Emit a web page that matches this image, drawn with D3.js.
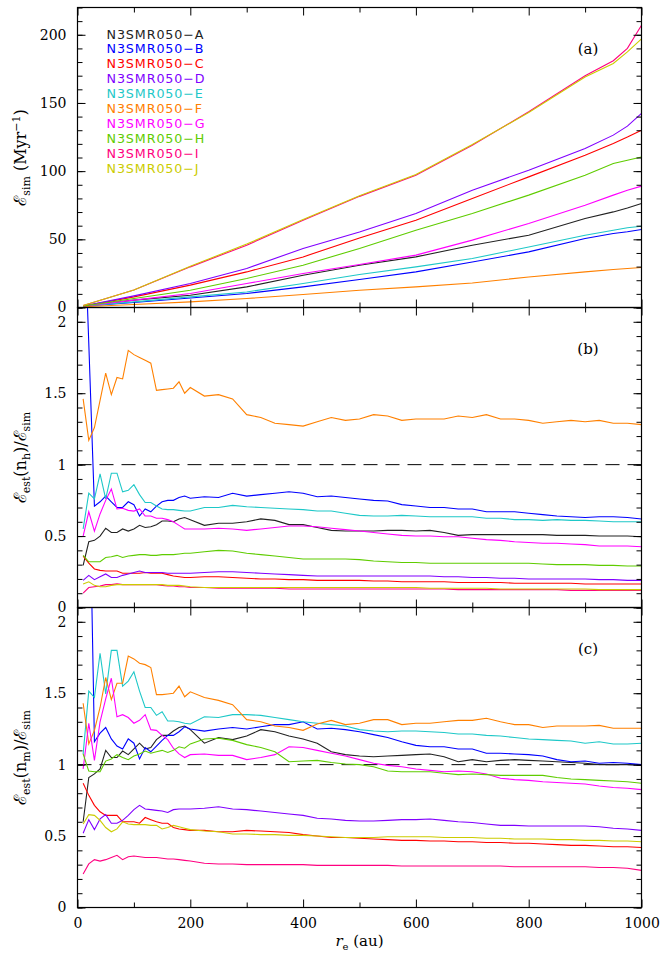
<!DOCTYPE html>
<html><head>
<meta charset="utf-8">
<title>Chart</title>
<script src="https://d3js.org/d3.v7.min.js"></script>
<style>body{margin:0;background:#fff}</style>
</head>
<body>
<div id="chart"></div>
<script>
// run names + colours
const names = ["N3SMR050\u2212A","N3SMR050\u2212B","N3SMR050\u2212C","N3SMR050\u2212D","N3SMR050\u2212E",
               "N3SMR050\u2212F","N3SMR050\u2212G","N3SMR050\u2212H","N3SMR050\u2212I","N3SMR050\u2212J"];
const colors = ["#222222","#0000ff","#ff0000","#8000ff","#1ec8c8","#ff8000","#ff00ff","#5fcc00","#ff0080","#cccc00"];

// panel (a): E_sim (Myr^-1)
const xSim = [10,100,200,300,400,500,600,700,800,900,950,975,1000];
const simA = [1,5.4,9,15.1,23.7,31,37.1,45.7,53,65.3,70.1,73,76.3];
const simB = [1,3.7,7,10.3,15.1,20.5,26.1,33.4,40.8,50.6,54.3,55.5,57.2];
const simC = [1,7.8,16.4,26.1,37.1,51,64,80,95.8,111.7,120.3,125,130];
const simD = [1,8.5,17.6,28.6,43.3,55.4,69,86,100.7,116.6,126.4,133,142.3];
const simE = [1,4.1,7.8,11.4,17.6,24.2,29.8,35.9,44.4,53,56.7,58.5,59.6];
const simF = [0.5,2.2,4.1,6.6,9.5,12.7,15.1,18,22.4,26.1,27.9,28.6,29.3];
const simG = [1,5.4,10.3,17.6,24.9,31.5,38.4,49.4,61.6,75,82.4,86,89];
const simH = [1,6.6,12.7,21.3,31,43.3,56.7,69,82.4,97,105.6,108,110.4];
const simI = [1.5,12.8,29.8,45.7,64,81.5,97,119,143.5,170,181,190,207];
const simJ = [1.5,12.8,30.3,46.5,64.5,82,97.5,119.5,143,169,179,187.5,197];

// panels (b) and (c): ratios
const xRatio = [10,20,30,40,50,60,70,80,90,100,110,120,130,140,150,160,170,180,190,200,
                225,250,275,300,325,350,375,400,425,450,475,500,525,550,575,600,625,650,675,700,
                725,750,775,800,825,850,875,900,925,950,975,1000];

const nhA = [0.295,0.46,0.47,0.50,0.555,0.525,0.525,0.55,0.535,0.55,0.575,0.56,0.565,0.58,0.605,0.605,0.60,0.62,0.63,0.615,
  0.575,0.59,0.59,0.60,0.62,0.61,0.58,0.58,0.56,0.54,0.535,0.535,0.535,0.54,0.54,0.535,0.54,0.525,0.505,0.51,
  0.51,0.51,0.51,0.51,0.51,0.505,0.505,0.505,0.50,0.50,0.50,0.495];
const nhB = [2.95,1.85,0.71,0.74,0.78,0.74,0.70,0.70,0.74,0.72,0.64,0.69,0.67,0.71,0.74,0.75,0.75,0.77,0.78,0.765,
  0.775,0.77,0.80,0.78,0.79,0.80,0.81,0.80,0.775,0.78,0.77,0.76,0.75,0.745,0.72,0.71,0.70,0.70,0.69,0.69,
  0.67,0.67,0.67,0.66,0.65,0.64,0.635,0.63,0.635,0.635,0.63,0.62];
const nhC = [0.36,0.31,0.27,0.26,0.255,0.255,0.255,0.24,0.24,0.24,0.24,0.245,0.24,0.24,0.24,0.23,0.22,0.215,0.21,0.21,
  0.215,0.215,0.21,0.205,0.20,0.20,0.195,0.195,0.19,0.19,0.19,0.19,0.185,0.185,0.18,0.18,0.18,0.18,0.175,0.175,
  0.175,0.175,0.17,0.17,0.17,0.17,0.17,0.165,0.165,0.165,0.165,0.165];
const nhD = [0.19,0.225,0.195,0.215,0.235,0.21,0.21,0.225,0.235,0.245,0.255,0.245,0.245,0.245,0.245,0.24,0.24,0.24,0.24,0.24,
  0.245,0.25,0.25,0.245,0.24,0.235,0.23,0.225,0.22,0.22,0.22,0.22,0.22,0.22,0.22,0.22,0.22,0.215,0.215,0.21,
  0.21,0.205,0.205,0.20,0.20,0.20,0.20,0.20,0.195,0.195,0.19,0.19];
const nhE = [0.55,0.80,0.76,0.935,0.76,0.94,0.94,0.81,0.82,0.86,0.79,0.735,0.735,0.71,0.69,0.685,0.685,0.68,0.675,0.675,
  0.70,0.70,0.715,0.705,0.70,0.695,0.69,0.685,0.675,0.675,0.66,0.645,0.64,0.64,0.645,0.64,0.635,0.635,0.635,0.635,
  0.625,0.625,0.615,0.615,0.61,0.615,0.61,0.61,0.605,0.60,0.60,0.60];
const nhF = [1.46,1.17,1.26,1.45,1.64,1.49,1.61,1.60,1.80,1.77,1.75,1.73,1.71,1.52,1.525,1.53,1.535,1.58,1.50,1.54,
  1.48,1.49,1.46,1.35,1.33,1.29,1.28,1.27,1.30,1.33,1.31,1.32,1.35,1.34,1.31,1.32,1.32,1.32,1.34,1.33,
  1.35,1.32,1.32,1.31,1.29,1.30,1.31,1.30,1.31,1.29,1.29,1.28];
const nhG = [0.50,0.67,0.535,0.655,0.75,0.83,0.69,0.695,0.68,0.675,0.69,0.64,0.64,0.625,0.625,0.615,0.60,0.575,0.55,0.55,
  0.55,0.555,0.55,0.54,0.55,0.56,0.57,0.57,0.565,0.555,0.545,0.535,0.525,0.515,0.505,0.50,0.50,0.495,0.495,0.485,
  0.475,0.47,0.46,0.455,0.45,0.45,0.445,0.44,0.43,0.43,0.43,0.425];
const nhH = [0.365,0.32,0.32,0.32,0.35,0.355,0.365,0.35,0.36,0.365,0.37,0.37,0.365,0.365,0.37,0.37,0.37,0.375,0.38,0.38,
  0.39,0.40,0.395,0.38,0.37,0.36,0.35,0.34,0.34,0.34,0.34,0.335,0.325,0.32,0.315,0.315,0.31,0.31,0.31,0.31,
  0.31,0.31,0.31,0.31,0.305,0.30,0.30,0.30,0.295,0.295,0.29,0.29];
const nhI = [0.10,0.14,0.145,0.15,0.16,0.16,0.165,0.16,0.16,0.16,0.16,0.16,0.16,0.16,0.155,0.15,0.15,0.145,0.145,0.14,
  0.14,0.135,0.135,0.135,0.135,0.135,0.13,0.13,0.13,0.13,0.13,0.13,0.13,0.13,0.13,0.13,0.13,0.13,0.125,0.125,
  0.125,0.125,0.125,0.125,0.125,0.125,0.12,0.12,0.12,0.12,0.12,0.12];
const nhJ = [0.165,0.18,0.155,0.145,0.145,0.155,0.16,0.16,0.16,0.16,0.16,0.16,0.16,0.16,0.16,0.155,0.155,0.155,0.15,0.145,
  0.14,0.14,0.14,0.14,0.14,0.14,0.14,0.14,0.14,0.14,0.14,0.14,0.14,0.14,0.14,0.14,0.135,0.135,0.135,0.135,
  0.135,0.13,0.13,0.13,0.13,0.13,0.13,0.13,0.125,0.125,0.125,0.125];

const nmA = [0.60,0.91,0.935,0.97,1.10,1.05,1.05,1.095,1.07,1.11,1.15,1.11,1.12,1.175,1.205,1.205,1.235,1.26,1.27,1.245,
  1.15,1.19,1.175,1.20,1.245,1.23,1.20,1.18,1.15,1.09,1.07,1.06,1.055,1.06,1.065,1.07,1.075,1.055,1.02,1.035,
  1.02,1.03,1.035,1.03,1.025,1.02,1.015,1.01,1.00,1.00,1.00,0.995];
const nmB = [5.5,3.3,1.16,1.22,1.26,1.18,1.13,1.11,1.18,1.15,1.04,1.12,1.09,1.13,1.17,1.205,1.205,1.23,1.265,1.25,
  1.235,1.25,1.26,1.25,1.265,1.28,1.28,1.30,1.25,1.255,1.245,1.23,1.21,1.19,1.16,1.135,1.125,1.125,1.11,1.11,
  1.08,1.08,1.075,1.07,1.06,1.035,1.02,1.025,1.01,1.015,1.01,1.0];
const nmC = [0.87,0.785,0.715,0.67,0.645,0.645,0.645,0.60,0.60,0.60,0.59,0.63,0.615,0.60,0.59,0.59,0.56,0.55,0.545,0.54,
  0.54,0.53,0.53,0.54,0.535,0.53,0.525,0.51,0.50,0.49,0.49,0.485,0.48,0.475,0.47,0.47,0.465,0.465,0.46,0.46,
  0.455,0.455,0.45,0.45,0.445,0.44,0.435,0.435,0.43,0.425,0.425,0.42];
const nmD = [0.52,0.615,0.545,0.62,0.65,0.59,0.59,0.61,0.645,0.685,0.715,0.69,0.685,0.68,0.675,0.665,0.685,0.69,0.69,0.69,
  0.695,0.705,0.69,0.685,0.675,0.665,0.655,0.645,0.625,0.62,0.61,0.605,0.605,0.61,0.615,0.615,0.62,0.61,0.60,0.595,
  0.585,0.575,0.575,0.57,0.57,0.57,0.57,0.57,0.565,0.555,0.55,0.54];
const nmE = [1.075,1.515,1.47,1.78,1.495,1.80,1.80,1.55,1.585,1.65,1.515,1.40,1.40,1.345,1.37,1.305,1.305,1.30,1.29,1.285,
  1.335,1.33,1.35,1.35,1.345,1.33,1.315,1.30,1.29,1.28,1.27,1.245,1.235,1.23,1.235,1.235,1.23,1.225,1.215,1.215,
  1.205,1.20,1.19,1.18,1.175,1.17,1.165,1.15,1.16,1.145,1.145,1.15];
const nmF = [1.43,1.145,1.24,1.40,1.61,1.455,1.57,1.57,1.76,1.74,1.71,1.70,1.68,1.49,1.49,1.495,1.50,1.55,1.475,1.51,
  1.47,1.45,1.42,1.315,1.30,1.27,1.26,1.24,1.285,1.31,1.28,1.29,1.315,1.315,1.28,1.29,1.29,1.30,1.31,1.31,
  1.325,1.30,1.28,1.28,1.26,1.27,1.27,1.27,1.275,1.255,1.255,1.255];
const nmG = [0.97,1.29,1.03,1.30,1.46,1.605,1.335,1.35,1.33,1.29,1.31,1.35,1.245,1.24,1.205,1.175,1.115,1.075,1.05,1.07,
  1.075,1.065,1.065,1.035,1.05,1.07,1.125,1.12,1.10,1.08,1.06,1.035,1.01,0.995,0.985,0.97,0.96,0.95,0.955,0.95,
  0.935,0.905,0.895,0.89,0.88,0.875,0.87,0.865,0.85,0.84,0.835,0.825];
const nmH = [1.075,0.955,0.95,0.95,1.025,1.04,1.07,1.05,1.035,1.06,1.075,1.095,1.08,1.09,1.10,1.085,1.10,1.125,1.115,1.145,
  1.18,1.185,1.17,1.14,1.12,1.09,1.02,1.025,1.03,1.015,1.005,1.0,0.985,0.955,0.95,0.95,0.95,0.94,0.93,0.935,
  0.93,0.925,0.925,0.925,0.925,0.91,0.90,0.895,0.89,0.885,0.88,0.87];
const nmI = [0.235,0.305,0.335,0.325,0.335,0.35,0.365,0.335,0.355,0.36,0.355,0.35,0.35,0.35,0.345,0.34,0.34,0.335,0.33,0.325,
  0.31,0.305,0.305,0.30,0.30,0.30,0.30,0.30,0.295,0.295,0.295,0.295,0.295,0.295,0.29,0.29,0.29,0.29,0.29,0.29,
  0.29,0.29,0.285,0.285,0.285,0.285,0.285,0.285,0.28,0.28,0.275,0.26];
const nmJ = [0.585,0.65,0.645,0.61,0.56,0.53,0.55,0.60,0.585,0.58,0.58,0.58,0.575,0.575,0.55,0.56,0.575,0.565,0.555,0.545,
  0.535,0.53,0.515,0.515,0.51,0.51,0.505,0.505,0.50,0.495,0.49,0.49,0.49,0.495,0.495,0.495,0.495,0.49,0.49,0.49,
  0.485,0.485,0.48,0.48,0.48,0.475,0.475,0.47,0.47,0.465,0.465,0.46];

const xMajor = [0,200,400,600,800,1000];
const xMinor = [100,300,500,700,900];

const serif = "'DejaVu Serif', 'Liberation Serif', serif";
const left = 77.5, right = 641.5, panelH = 300;

const svg = d3.select("#chart").append("svg")
    .attr("width", 663).attr("height", 956);

const x = d3.scaleLinear().domain([0,1000]).range([left,right]);

function styleAxis(g){
    g.select(".domain").remove();
    g.attr("font-family", serif).attr("font-size", 14);
    g.selectAll("line").attr("stroke", "#000").attr("stroke-width", 1);
    g.selectAll("text").attr("fill", "#000");
}

function panel(id, top, yMax, yMajor, yMinor, yFmt, xs, series, dashed, letter){
    const y = d3.scaleLinear().domain([0,yMax]).range([top+panelH, top]);

    svg.append("clipPath").attr("id","clip"+id)
        .append("rect").attr("x",left).attr("y",top).attr("width",right-left).attr("height",panelH);

    if(dashed){
        svg.append("line")
            .attr("x1", x(0)).attr("x2", x(1000))
            .attr("y1", y(1)).attr("y2", y(1))
            .attr("stroke", "#000").attr("stroke-width", 1)
            .attr("stroke-dasharray", "14,8");
    }

    const line = d3.line().x((d,i) => x(xs[i])).y(d => y(d));
    svg.append("g").attr("clip-path", "url(#clip"+id+")")
        .selectAll("path").data(series).join("path")
        .attr("d", line)
        .attr("fill", "none")
        .attr("stroke", (d,i) => colors[i])
        .attr("stroke-width", 1.1);

    // ticks on all four sides, pointing inward
    svg.append("g").attr("transform","translate("+left+",0)")
        .call(d3.axisLeft(y).tickValues(yMajor).tickSize(-8).tickPadding(11).tickFormat(yFmt)).call(styleAxis);
    svg.append("g").attr("transform","translate("+left+",0)")
        .call(d3.axisLeft(y).tickValues(yMinor).tickSize(-5).tickFormat("")).call(styleAxis);
    svg.append("g").attr("transform","translate("+right+",0)")
        .call(d3.axisRight(y).tickValues(yMajor).tickSize(-8).tickFormat("")).call(styleAxis);
    svg.append("g").attr("transform","translate("+right+",0)")
        .call(d3.axisRight(y).tickValues(yMinor).tickSize(-5).tickFormat("")).call(styleAxis);

    svg.append("g").attr("transform","translate(0,"+top+")")
        .call(d3.axisTop(x).tickValues(xMajor).tickSize(-8).tickFormat("")).call(styleAxis);
    svg.append("g").attr("transform","translate(0,"+top+")")
        .call(d3.axisTop(x).tickValues(xMinor).tickSize(-5).tickFormat("")).call(styleAxis);
    svg.append("g").attr("transform","translate(0,"+(top+panelH)+")")
        .call(d3.axisBottom(x).tickValues(xMinor).tickSize(-5).tickFormat("")).call(styleAxis);
    svg.append("g").attr("transform","translate(0,"+(top+panelH)+")")
        .call(d3.axisBottom(x).tickValues(xMajor).tickSize(-8).tickPadding(11)
              .tickFormat(id === "c" ? d3.format("d") : "")).call(styleAxis);

    svg.append("rect")
        .attr("x", left).attr("y", top).attr("width", right-left).attr("height", panelH)
        .attr("fill", "none").attr("stroke", "#000").attr("stroke-width", 1.2);

    svg.append("text")
        .attr("x", 588).attr("y", top + 46)
        .attr("text-anchor", "middle")
        .attr("font-family", serif).attr("font-size", 15)
        .text(letter);

    return y;
}

const simSeries = [simA,simB,simC,simD,simE,simF,simG,simH,simI,simJ];
const nhSeries = [nhA,nhB,nhC,nhD,nhE,nhF,nhG,nhH,nhI,nhJ];
const nmSeries = [nmA,nmB,nmC,nmD,nmE,nmF,nmG,nmH,nmI,nmJ];

const ratioFmt = d => d3.format("")(d);

panel("a", 7.5, 220, [0,50,100,150,200], d3.range(0,221,10), d3.format("d"), xSim, simSeries, false, "(a)");
panel("b", 307.5, 2.1, [0,0.5,1,1.5,2], d3.range(0,2.11,0.1), ratioFmt, xRatio, nhSeries, true, "(b)");
panel("c", 607.5, 2.1, [0,0.5,1,1.5,2], d3.range(0,2.11,0.1), ratioFmt, xRatio, nmSeries, true, "(c)");

// legend
svg.append("g").selectAll("text").data(names).join("text")
    .attr("x", 106.5)
    .attr("y", (d,i) => 38.5 + i*14.92)
    .attr("font-family", "'DejaVu Sans', 'Liberation Sans', sans-serif")
    .attr("font-size", 12.7)
    .attr("letter-spacing", 0.9)
    .attr("fill", (d,i) => colors[i])
    .text(d => d);

// axis titles
function yTitle(cy, parts){
    const t = svg.append("text")
        .attr("transform", "translate(26,"+cy+") rotate(-90)")
        .attr("text-anchor", "middle")
        .attr("font-family", serif).attr("font-size", 16);
    parts.forEach(p => {
        t.append("tspan").attr("font-size", p[1]).attr("dy", p[2]).text(p[0]);
    });
}
yTitle(157.5, [["\u2130",17,0],["sim",11,4],[" (Myr",16,-4],["\u22121",11,-6],[")",16,6]]);
yTitle(457.5, [["\u2130",17,0],["est",11,4],["(n",16,-4],["h",11,4],[")/",16,-4],["\u2130",17,0],["sim",11,4]]);
yTitle(757.5, [["\u2130",17,0],["est",11,4],["(n",16,-4],["m",11,4],[")/",16,-4],["\u2130",17,0],["sim",11,4]]);

const xt = svg.append("text")
    .attr("x", 359.5).attr("y", 946)
    .attr("text-anchor", "middle")
    .attr("font-family", serif).attr("font-size", 15);
xt.append("tspan").attr("font-style", "italic").text("r");
xt.append("tspan").attr("font-size", 10).attr("dy", 4).text("e");
xt.append("tspan").attr("dy", -4).text(" (au)");
</script>
</body></html>
